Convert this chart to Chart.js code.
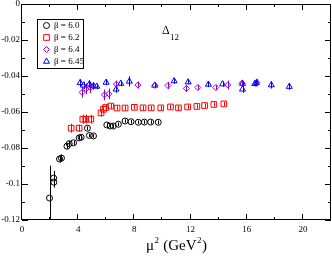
<!DOCTYPE html>
<html>
<head>
<meta charset="utf-8">
<script src="https://cdn.jsdelivr.net/npm/chart.js@4/dist/chart.umd.min.js"></script>
<style>
  html, body { margin: 0; padding: 0; background: #fff; }
</style>
</head>
<body>
<canvas id="c" width="332" height="256"></canvas>
<script>
// beta = 6.0
const mu2_b60 = [1.96, 2.25, 2.27, 2.67, 2.81, 3.2, 3.36, 3.67, 4.07, 4.21, 4.66, 4.8, 5.09, 6.04, 6.27, 6.5, 6.86, 7.34, 7.76, 8.28, 8.71, 9.16, 9.7];
const delta_b60 = [-0.1078, -0.0967, -0.099, -0.0861, -0.0856, -0.079, -0.0776, -0.0771, -0.0744, -0.074, -0.069, -0.073, -0.0733, -0.0672, -0.0678, -0.0678, -0.0668, -0.065, -0.0654, -0.0657, -0.0656, -0.0656, -0.0657];
const err_b60 = [0.018, 0.004, 0.003, 0.002, 0.002, 0.0015, 0.0015, 0.0012, 0.0012, 0.0012, 0.001, 0.001, 0.001, 0.001, 0.001, 0.001, 0.001, 0.001, 0.001, 0.001, 0.001, 0.001, 0.001];

// beta = 6.2
const mu2_b62 = [3.5, 4.07, 4.33, 4.54, 4.9, 5.63, 5.8, 5.95, 6.32, 6.77, 7.34, 8.0, 8.62, 9.2, 9.88, 10.57, 11.14, 11.79, 12.45, 13.0, 13.66, 14.37];
const delta_b62 = [-0.069, -0.069, -0.064, -0.064, -0.064, -0.0605, -0.0585, -0.0575, -0.0567, -0.0578, -0.0578, -0.0574, -0.0577, -0.0577, -0.0577, -0.0572, -0.0577, -0.0572, -0.0569, -0.0564, -0.0558, -0.0555];
const err_b62 = [0.0025, 0.002, 0.0025, 0.0025, 0.0025, 0.002, 0.002, 0.0015, 0.0015, 0.0012, 0.0012, 0.0012, 0.0012, 0.0012, 0.0012, 0.0012, 0.0012, 0.0012, 0.0012, 0.0012, 0.0012, 0.0012];

// beta = 6.4
const mu2_b64 = [4.28, 4.56, 4.86, 5.87, 6.18, 6.72, 8.25, 9.47, 10.39, 11.7, 12.52, 13.8, 14.65, 15.66, 16.71];
const delta_b64 = [-0.0491, -0.0471, -0.0465, -0.0505, -0.0499, -0.0445, -0.045, -0.0452, -0.0453, -0.0469, -0.0464, -0.0464, -0.045, -0.0441, -0.0435];
const err_b64 = [0.003, 0.003, 0.003, 0.003, 0.003, 0.002, 0.002, 0.0015, 0.002, 0.002, 0.0015, 0.0015, 0.0025, 0.002, 0.002];

// beta = 6.45
const mu2_b645 = [4.14, 4.38, 4.8, 5.09, 5.32, 5.99, 6.7, 7.03, 7.64, 9.45, 10.83, 11.83, 13.27, 14.28, 15.7, 15.7, 16.57, 16.69, 17.75, 19.03];
const delta_b645 = [-0.0438, -0.0452, -0.0445, -0.0455, -0.0458, -0.0436, -0.0474, -0.0442, -0.043, -0.0452, -0.0428, -0.0434, -0.0447, -0.0445, -0.0442, -0.0474, -0.0443, -0.0438, -0.045, -0.0459];
const err_b645 = [0.002, 0.002, 0.002, 0.002, 0.0015, 0.0015, 0.002, 0.0015, 0.0028, 0.0015, 0.0015, 0.0012, 0.0015, 0.0015, 0.0015, 0.002, 0.0015, 0.002, 0.002, 0.0018];

const serif = '"Liberation Serif", "DejaVu Serif", serif';

const makeSet = (label, xs, ys, es, color, style, radius) => ({
  label,
  data: xs.map((x, i) => ({ x, y: ys[i], e: es[i] })),
  borderColor: color,
  backgroundColor: 'transparent',
  pointStyle: style,
  pointRadius: radius,
  pointBorderWidth: 1,
  showLine: false,
});

// vertical error bars, drawn under the symbols
const errorBars = {
  id: 'errorBars',
  beforeDatasetsDraw(chart) {
    const { ctx, chartArea: a, scales: { x, y } } = chart;
    ctx.save();
    ctx.beginPath();
    ctx.rect(a.left, a.top, a.right - a.left, a.bottom - a.top);
    ctx.clip();
    ctx.lineWidth = 1;
    chart.data.datasets.forEach((ds) => {
      ctx.strokeStyle = ds.borderColor;
      ds.data.forEach((p) => {
        const px = Math.round(x.getPixelForValue(p.x)) + 0.5;
        ctx.beginPath();
        ctx.moveTo(px, y.getPixelForValue(p.y - p.e));
        ctx.lineTo(px, y.getPixelForValue(p.y + p.e));
        ctx.stroke();
      });
    });
    ctx.restore();
  },
};

// text pieces: [string, size, raise]
const xTitle = [['μ', 15, 0], ['2', 9, 7], [' (GeV', 15, 0], ['2', 9, 7], [')', 15, 0]];

// box, inward ticks, legend and labels
const frame = {
  id: 'frame',
  afterDraw(chart) {
    const { ctx, chartArea: a, scales: { x, y } } = chart;
    ctx.save();
    ctx.strokeStyle = '#000';
    ctx.lineWidth = 1;
    ctx.strokeRect(a.left - 0.5, a.top + 0.5, a.right - a.left, a.bottom - a.top - 1);

    ctx.beginPath();
    x.ticks.forEach((t) => {
      const px = Math.round(x.getPixelForValue(t.value)) - 0.5;
      const len = t.value % 4 === 0 ? 6 : 3;
      ctx.moveTo(px, a.bottom); ctx.lineTo(px, a.bottom - len);
      ctx.moveTo(px, a.top); ctx.lineTo(px, a.top + len);
    });
    y.ticks.forEach((t) => {
      const py = Math.round(y.getPixelForValue(t.value)) + 0.5;
      const len = Math.round(t.value * 100) % 2 === 0 ? 6 : 3;
      ctx.moveTo(a.left, py); ctx.lineTo(a.left + len, py);
      ctx.moveTo(a.right, py); ctx.lineTo(a.right - len, py);
    });
    ctx.stroke();

    // legend
    const lx = a.left + 15, ly = a.top + 15;
    ctx.strokeRect(lx + 0.5, ly + 0.5, 46, 49);
    ctx.font = '9px ' + serif;
    ctx.fillStyle = '#000';
    ctx.textBaseline = 'middle';
    chart.data.datasets.forEach((ds, i) => {
      const cy = ly + 6.5 + i * 12;
      if (Chart.helpers && Chart.helpers.drawPoint) {
        ctx.strokeStyle = ds.borderColor;
        ctx.fillStyle = 'transparent';
        ctx.lineWidth = 1;
        Chart.helpers.drawPoint(ctx, { pointStyle: ds.pointStyle, radius: ds.pointRadius, borderWidth: 1 }, lx + 9.5, cy);
      }
      ctx.fillStyle = '#000';
      ctx.fillText(ds.label, lx + 17, cy);
    });

    // Delta_12
    ctx.textBaseline = 'alphabetic';
    ctx.font = '12px ' + serif;
    ctx.fillText('Δ', 162, 34);
    ctx.font = '9px ' + serif;
    ctx.fillText('12', 170, 40);

    // x axis title
    let total = 0;
    xTitle.forEach(([s, size]) => { ctx.font = size + 'px ' + serif; total += ctx.measureText(s).width + (size < 12 ? 1 : 0); });
    let tx = (a.left + a.right) / 2 - total / 2;
    const base = 250;
    xTitle.forEach(([s, size, raise]) => {
      ctx.font = size + 'px ' + serif;
      ctx.fillText(s, tx + (size < 12 ? 0.5 : 0), base - raise);
      tx += ctx.measureText(s).width + (size < 12 ? 1 : 0);
    });
    ctx.restore();
  },
};

new Chart(document.getElementById('c'), {
  type: 'scatter',
  data: {
    datasets: [
      makeSet('β = 6.0', mu2_b60, delta_b60, err_b60, '#000000', 'circle', 3),
      makeSet('β = 6.2', mu2_b62, delta_b62, err_b62, '#ff0000', 'rect', 4),
      makeSet('β = 6.4', mu2_b64, delta_b64, err_b64, '#9400d3', 'rectRot', 3),
      makeSet('β = 6.45', mu2_b645, delta_b645, err_b645, '#0000ff', 'triangle', 3.5),
    ],
  },
  options: {
    responsive: false,
    animation: false,
    devicePixelRatio: 1,
    layout: { autoPadding: false, padding: { top: 4, right: 1, left: 0, bottom: 0 } },
    plugins: { legend: { display: false }, tooltip: { enabled: false } },
    scales: {
      x: {
        type: 'linear',
        min: 0,
        max: 22,
        afterFit: (s) => { s.height = 36; s.paddingLeft = 0; s.paddingRight = 0; },
        grid: { display: false, drawTicks: false },
        border: { display: false },
        ticks: {
          stepSize: 2,
          padding: 4,
          maxRotation: 0,
          autoSkip: false,
          color: '#000',
          font: { family: serif, size: 9 },
          callback: (v) => (v % 4 === 0 ? String(v) : ''),
        },
      },
      y: {
        type: 'linear',
        min: -0.12,
        max: 0,
        afterFit: (s) => { s.width = 22; s.paddingTop = 0; s.paddingBottom = 0; },
        grid: { display: false, drawTicks: false },
        border: { display: false },
        ticks: {
          stepSize: 0.01,
          padding: 2,
          autoSkip: false,
          color: '#000',
          font: { family: serif, size: 9 },
          callback: (v) => {
            const k = Math.round(v * 100);
            return k % 2 === 0 ? String(k / 100) : '';
          },
        },
      },
    },
  },
  plugins: [errorBars, frame],
});
</script>
</body>
</html>
